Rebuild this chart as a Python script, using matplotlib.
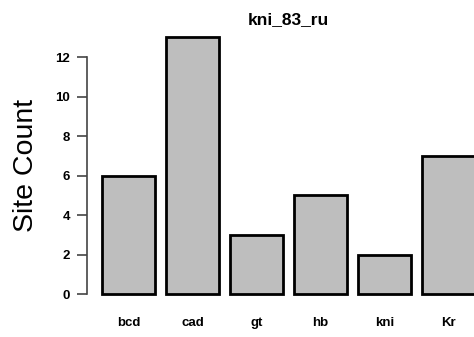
import matplotlib
matplotlib.use("Agg")
import matplotlib.pyplot as plt

genes = ["bcd", "cad", "gt", "hb", "kni", "Kr"]
counts = [6, 13, 3, 5, 2, 7]
title = "kni_83_ru"

plt.rcParams["font.family"] = ["Liberation Sans", "DejaVu Sans"]

fig = plt.figure(figsize=(4.74, 3.37), dpi=100)
# plot region runs past the right edge of the figure
ax = fig.add_axes([87 / 474, 1 - 304.3 / 337, 403 / 474, 277.3 / 337])

# barplot-style layout: width 1, space 0.2
x = [0.2 + i * 1.2 + 0.5 for i in range(len(genes))]
ax.bar(x, counts, width=1.0, color="#bebebe", edgecolor="black", linewidth=2.0)

ax.set_xlim(-0.08, 7.48)
ax.set_ylim(-0.52, 13.52)

ax.set_xticks(x)
ax.set_xticklabels(genes, fontsize=9.5, fontweight="bold")
ax.tick_params(axis="x", length=0, pad=9)

ax.set_yticks(range(0, 13, 2))
ax.set_yticklabels([str(v) for v in range(0, 13, 2)], fontsize=9.5, fontweight="bold")
ax.tick_params(axis="y", length=7, width=1.2, color="#444444", pad=5)

for side in ["top", "right", "bottom"]:
    ax.spines[side].set_visible(False)
ax.spines["left"].set_bounds(0, 12)
ax.spines["left"].set_color("#444444")
ax.spines["left"].set_linewidth(1.2)

ax.set_ylabel("Site Count", fontsize=20.5, labelpad=12)
ax.set_title(title, fontsize=12.5, fontweight="bold", pad=2)

fig.savefig("out.png", dpi=100)
